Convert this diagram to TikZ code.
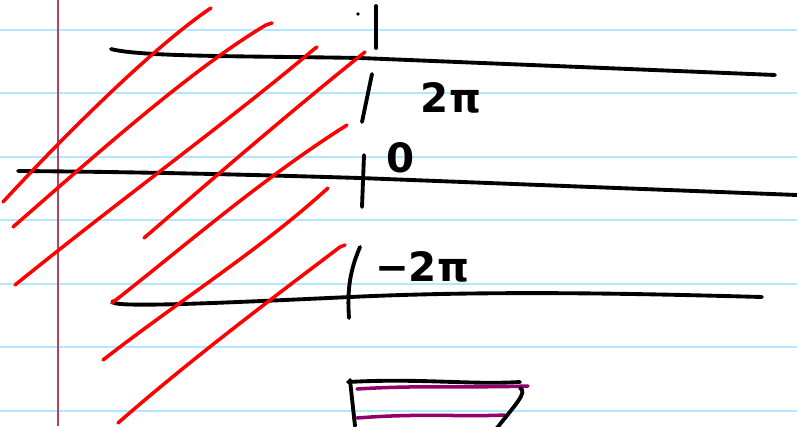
\documentclass[tikz,border=0pt]{standalone}
\usepackage{fontspec}
\setsansfont{DejaVu Sans}
\usepackage{tikz}

\begin{document}
\begin{tikzpicture}[
  x=0.02cm, y=-0.02cm,
  rule/.style={draw=blue!30!cyan!30,line width=1.1pt},
  margin/.style={draw=purple!55!pink!80!black,line width=1pt},
  ink/.style={draw=black,line width=2.2pt,line cap=round},
  hatch/.style={draw=red,line width=2pt,line cap=round},
  violet/.style={draw=violet!70!purple,line width=2pt,line cap=round},
  lbl/.style={font=\sffamily\bfseries\fontsize{23}{26}\selectfont,inner sep=0pt},
]
\useasboundingbox (0,0) rectangle (797,426);
\clip (0,0) rectangle (797,426);
\fill[white] (0,0) rectangle (797,426);

% paper
\foreach \y in {30,93,157,220,284,347,411}
  \draw[rule] (0,\y) -- (797,\y);
\draw[margin] (58,0) -- (58,426);

% horizontal strips
\draw[ink] (111,49) .. controls (140,57) and (250,56) .. (360,58) -- (775,75);
\draw[ink] (18,171) .. controls (150,172) and (260,175) .. (360,178) -- (797,195);
\draw[ink] (113,301) .. controls (105,308) and (200,304) .. (350,297)
  .. controls (500,290) and (650,294) .. (762,297);

% vertical axis
\draw[ink] (376,6) -- (376,48);
\fill (358,14) circle (1.8);
\draw[ink] (372,74) -- (362,122);
\draw[ink] (364,155) -- (362,207);
\draw[ink] (360,247) .. controls (350,270) and (347,290) .. (349,318);

\node[lbl] (twopi) at (451,98) {2π};
\node[lbl] (zero) at (401,158) {0};
\node[lbl] (mtwopi) at (422,267) {−2π};

% shading
\draw[hatch] (3,202) .. controls (60,140) and (150,50) .. (208,10) -- (211,8);
\draw[hatch] (13,227) .. controls (90,160) and (190,70) .. (266,25) -- (272,23);
\draw[hatch] (15,285) .. controls (120,200) and (230,120) .. (313,50) -- (317,47);
\draw[hatch] (144,238) .. controls (200,190) and (280,120) .. (365,52);
\draw[hatch] (112,303) .. controls (180,250) and (260,180) .. (347,125);
\draw[hatch] (103,360) .. controls (180,300) and (260,250) .. (328,188);
\draw[hatch] (118,423) .. controls (190,360) and (270,300) .. (340,247) -- (345,245);

% bottom sketch
\draw[ink] (348,382) .. controls (420,378) and (470,385) .. (520,382);
\draw[ink] (350,380) -- (355,426);
\draw[violet] (357,389) .. controls (420,385) and (470,388) .. (528,386);
\draw[violet] (357,418) .. controls (420,413) and (460,417) .. (505,415);
\draw[ink] (520,388) .. controls (528,392) and (515,405) .. (497,428);
\end{tikzpicture}
\end{document}
